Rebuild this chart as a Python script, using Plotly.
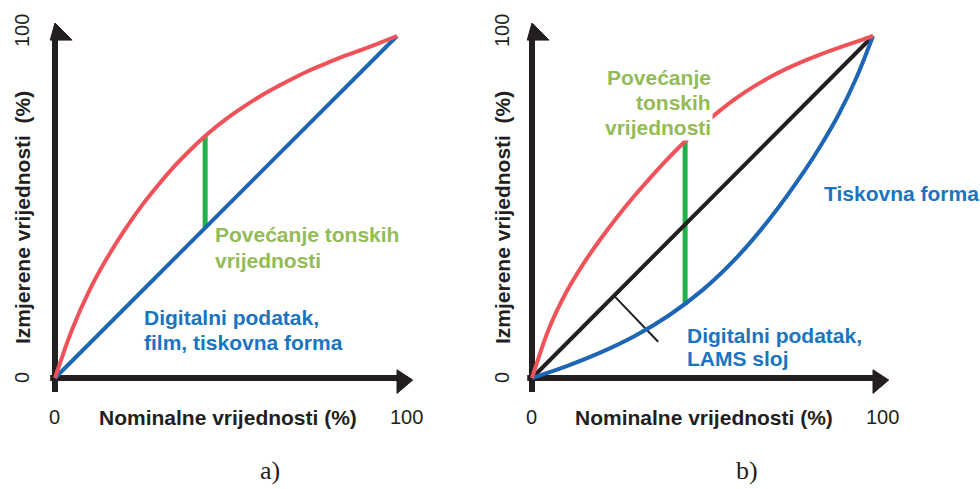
import plotly.graph_objects as go

# ---- data (percent) ----
# panel a
red_a_x = [0, 5, 10, 15, 20, 25, 30, 35, 40, 45, 50, 55, 60, 65, 70, 75, 80, 85, 90, 95, 100]
red_a_y = [0, 14.2, 25.5, 34.7, 42.7, 49.9, 56.2, 62.0, 67.1, 71.7, 75.7, 79.2, 82.4,
           85.2, 87.8, 90.2, 92.3, 94.3, 96.1, 98.0, 100]
blue_a_x = [0, 100]
blue_a_y = [0, 100]
green_a_x = [43.9, 43.9]
green_a_y = [43.9, 70.8]

# panel b
red_b_x = [0, 5, 10, 15, 20, 25, 30, 35, 40, 45, 50, 55, 60, 65, 70, 75, 80, 85, 90, 95, 100]
red_b_y = [0, 14.5, 25.0, 33.3, 40.5, 47.1, 53.2, 58.9, 64.3, 69.3, 73.9, 78.1, 81.9,
           85.2, 88.1, 90.6, 92.8, 94.8, 96.6, 98.3, 100]
blue_b_x = [0, 10, 20, 30, 40, 50, 60, 70, 80, 85, 90, 95, 100]
blue_b_y = [0, 3.4, 7.4, 12.2, 18.2, 25.7, 35.2, 46.9, 60.7, 68.5, 77.2, 87.5, 100]
black_b_x = [0, 100]
black_b_y = [0, 100]
green_b_x = [44.9, 44.9]
green_b_y = [21.5, 69.2]
pointer_b_x = [24.3, 37.0]
pointer_b_y = [23.8, 10.6]

tick_vals = [0, 100]
tick_text = ["0", "100"]

RED = "#f0525a"
BLUE = "#1c66b5"
GREEN = "#22b14c"
BLACK = "#231f20"
LBL_GREEN = "#93bb57"
LBL_BLUE = "#1a74c0"

W, H = 980, 489
FONT = "Liberation Sans, Arial, sans-serif"
SERIF = "Liberation Serif, Times New Roman, serif"

fig = go.Figure()


def line(x, y, color, width, xa, ya, shape="spline"):
    fig.add_trace(go.Scatter(
        x=x, y=y, mode="lines", xaxis=xa, yaxis=ya,
        line=dict(color=color, width=width, shape=shape, smoothing=1.0),
        hoverinfo="skip", showlegend=False))


# panel a
line(green_a_x, green_a_y, GREEN, 5, "x", "y", "linear")
line(blue_a_x, blue_a_y, BLUE, 4, "x", "y", "linear")
line(red_a_x, red_a_y, RED, 4, "x", "y")

# panel b
line(green_b_x, green_b_y, GREEN, 5, "x2", "y2", "linear")
line(pointer_b_x, pointer_b_y, BLACK, 2, "x2", "y2", "linear")
line(black_b_x, black_b_y, BLACK, 4, "x2", "y2", "linear")
line(blue_b_x, blue_b_y, BLUE, 4, "x2", "y2")
line(red_b_x, red_b_y, RED, 4, "x2", "y2")

# axes geometry: origin pixel and pixels per unit
OY, SY = 378, 3.42
XR = [-5, 110]
YR = [-6, 106]
panels = [
    dict(xa="x", ya="y", ox=55, sx=3.42, lx=22),
    dict(xa="x2", ya="y2", ox=532, sx=3.41, lx=502),
]


def xdom(ox, sx):
    return [(ox + XR[0] * sx) / W, (ox + XR[1] * sx) / W]


ydom = [1 - (OY - YR[0] * SY) / H, 1 - (OY - YR[1] * SY) / H]

axis_common = dict(showgrid=False, zeroline=False, showticklabels=False,
                   showline=False, ticks="", fixedrange=True)
fig.update_layout(
    xaxis=dict(domain=xdom(55, 3.42), range=XR, anchor="y", **axis_common),
    yaxis=dict(domain=ydom, range=YR, anchor="x", **axis_common),
    xaxis2=dict(domain=xdom(532, 3.41), range=XR, anchor="y2", **axis_common),
    yaxis2=dict(domain=ydom, range=YR, anchor="x2", **axis_common),
)

shapes = []
annotations = []


def text_px(px, py, text, size=21, color=BLACK, xanchor="center", family=FONT,
            angle=0, bg=None):
    a = dict(xref="paper", yref="paper", x=px / W, y=1 - py / H, text=text,
             showarrow=False, xanchor=xanchor, yanchor="middle", textangle=angle,
             font=dict(family=family, size=size, color=color))
    if bg:
        a["bgcolor"] = bg
    annotations.append(a)


for p, letter in zip(panels, ["a)", "b)"]):
    xa, ya = p["xa"], p["ya"]
    ox, sx, lx = p["ox"], p["sx"], p["lx"]
    # axis lines
    shapes.append(dict(type="line", xref=xa, yref=ya, x0=-1.4, x1=100.5, y0=0, y1=0,
                       line=dict(color=BLACK, width=6), layer="below"))
    shapes.append(dict(type="line", xref=xa, yref=ya, x0=0, x1=0, y0=-4.1, y1=99,
                       line=dict(color=BLACK, width=6), layer="below"))
    # arrow heads
    shapes.append(dict(type="path", xref=xa, yref=ya,
                       path="M -1.4,98.8 L 0,103.8 L 5,98.8 Z",
                       fillcolor=BLACK, line=dict(color=BLACK, width=1), layer="below"))
    shapes.append(dict(type="path", xref=xa, yref=ya,
                       path="M 100,2.4 L 104.6,-0.6 L 100,-4.5 Z",
                       fillcolor=BLACK, line=dict(color=BLACK, width=1), layer="below"))

    # tick labels (x below the axis, y rotated at the left)
    for v, t in zip(tick_vals, tick_text):
        text_px(ox + v * sx - 1 + (10 if v else 0), 417, t, size=20)
        text_px(lx, OY - v * SY - (5 if v else 0), t, size=20, angle=-90)
    # axis titles
    text_px(ox + 50.5 * sx, 417, "<b>Nominalne vrijednosti (%)</b>")
    text_px(lx, 218, "<b>Izmjerene vrijednosti  (%)</b>", angle=-90)
    # panel letter
    text_px(ox + 63 * sx, 470, letter, size=26, family=SERIF)

# panel a labels
text_px(213, 235, "<b>Povećanje tonskih</b>", color=LBL_GREEN, xanchor="left")
text_px(213, 260, "<b>vrijednosti</b>", color=LBL_GREEN, xanchor="left")
text_px(142, 317, "<b>Digitalni podatak,</b>", color=LBL_BLUE, xanchor="left")
text_px(142, 342, "<b>film, tiskovna forma</b>", color=LBL_BLUE, xanchor="left")

# panel b labels
for i, t in enumerate(["Povećanje", "tonskih", "vrijednosti"]):
    text_px(713, 78 + 25 * i, f"<b>{t}</b>", color=LBL_GREEN, xanchor="right",
            bg="white")
text_px(822, 193, "<b>Tiskovna forma</b>", color=LBL_BLUE, xanchor="left")
text_px(685, 335, "<b>Digitalni podatak,</b>", color=LBL_BLUE, xanchor="left")
text_px(685, 358, "<b>LAMS sloj</b>", color=LBL_BLUE, xanchor="left")

fig.update_layout(
    width=W, height=H, margin=dict(l=0, r=0, t=0, b=0),
    paper_bgcolor="white", plot_bgcolor="white",
    shapes=shapes, annotations=annotations, showlegend=False,
)

fig.write_html("out.html", config={"displayModeBar": False})
